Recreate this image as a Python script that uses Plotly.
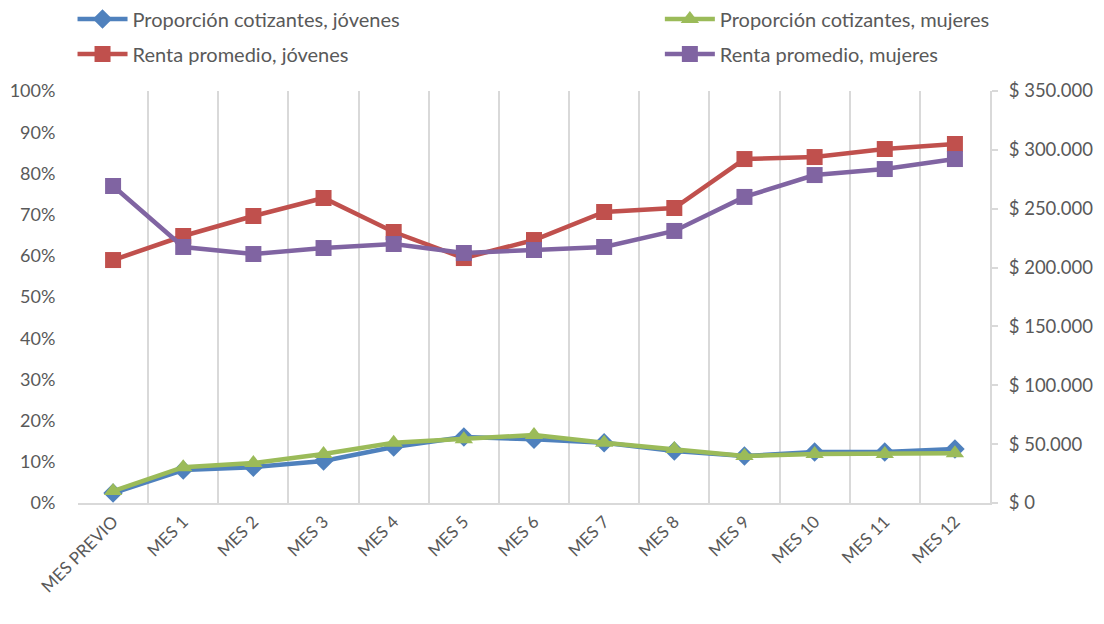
import plotly.graph_objects as go

categorias = ["MES PREVIO", "MES 1", "MES 2", "MES 3", "MES 4", "MES 5", "MES 6",
              "MES 7", "MES 8", "MES 9", "MES 10", "MES 11", "MES 12"]
prop_jovenes = [0.024, 0.080, 0.087, 0.102, 0.136, 0.160, 0.155, 0.146, 0.126, 0.114, 0.124, 0.124, 0.131]
prop_mujeres = [0.029, 0.087, 0.097, 0.119, 0.146, 0.155, 0.165, 0.146, 0.131, 0.114, 0.119, 0.119, 0.121]
renta_jovenes = [206400, 226800, 243800, 259100, 230200, 208100, 223400, 247200, 250600, 292200, 293900, 300700, 305000]
renta_mujeres = [269300, 217500, 211500, 216600, 220000, 212400, 214900, 217500, 231100, 260000, 278600, 283700, 292200]

y_ticks = [i / 10 for i in range(11)]
y_ticktext = [f"{i*10}%" for i in range(11)]
y2_ticks = [0, 50000, 100000, 150000, 200000, 250000, 300000, 350000]
y2_ticktext = ["$ 0", "$ 50.000", "$ 100.000", "$ 150.000", "$ 200.000", "$ 250.000", "$ 300.000", "$ 350.000"]

BLUE = "#4F81BD"
RED = "#C0504D"
GREEN = "#9BBB59"
PURPLE = "#8064A2"
TXT = "#595959"
GRID = "#D9D9D9"
FONT = "Lato, Open Sans, sans-serif"

fig = go.Figure()
fig.add_trace(go.Scatter(x=categorias, y=prop_jovenes, name="Proporción cotizantes, jóvenes",
                         mode="lines+markers", line=dict(color=BLUE, width=4.5),
                         marker=dict(symbol="diamond", size=15, color=BLUE), yaxis="y",
                         legend="legend", legendgroup="a"))
fig.add_trace(go.Scatter(x=categorias, y=prop_mujeres, name="Proporción cotizantes, mujeres",
                         mode="lines+markers", line=dict(color=GREEN, width=4.5),
                         marker=dict(symbol="triangle-up", size=16, color=GREEN), yaxis="y",
                         legend="legend2", legendgroup="c"))
fig.add_trace(go.Scatter(x=categorias, y=renta_jovenes, name="Renta promedio, jóvenes",
                         mode="lines+markers", line=dict(color=RED, width=4.5),
                         marker=dict(symbol="square", size=16, color=RED), yaxis="y2",
                         legend="legend", legendgroup="b"))
fig.add_trace(go.Scatter(x=categorias, y=renta_mujeres, name="Renta promedio, mujeres",
                         mode="lines+markers", line=dict(color=PURPLE, width=4.5),
                         marker=dict(symbol="square", size=16, color=PURPLE), yaxis="y2",
                         legend="legend2", legendgroup="d"))

leg_common = dict(orientation="v", yref="paper", y=1.222, yanchor="top",
                  font=dict(size=20, color=TXT), tracegroupgap=6, itemwidth=50,
                  bgcolor="rgba(0,0,0,0)", borderwidth=0)

# page body has an 8px margin, so the figure is sized 8px smaller and offset accordingly
fig.update_layout(
    width=1096, height=616,
    margin=dict(l=70, r=114, t=83, b=121, autoexpand=False),
    paper_bgcolor="white", plot_bgcolor="white",
    font=dict(family=FONT, color=TXT, size=17),
    showlegend=True,
    legend=dict(x=-0.006, xanchor="left", **leg_common),
    legend2=dict(x=0.638, xanchor="left", **leg_common),
    xaxis=dict(type="category", range=[-0.5, 12.5], tickson="boundaries",
               showgrid=True, gridcolor=GRID, gridwidth=2,
               showline=True, linecolor=GRID, linewidth=2,
               ticks="", tickangle=-45, tickfont=dict(size=17, color=TXT), zeroline=False),
    yaxis=dict(range=[0, 1], tickvals=y_ticks, ticktext=y_ticktext, showgrid=False,
               zeroline=False, showline=False, ticks="outside", ticklen=14,
               tickcolor="rgba(0,0,0,0)", ticklabelstandoff=4,
               tickfont=dict(size=18, color=TXT)),
    yaxis2=dict(range=[0, 350000], tickvals=y2_ticks, ticktext=y2_ticktext, overlaying="y",
                side="right", showgrid=False, zeroline=False, showline=True, linecolor=GRID,
                linewidth=2, ticks="outside", ticklen=6, tickcolor=GRID, tickwidth=2,
                ticklabelstandoff=7, tickfont=dict(size=18.5, color=TXT)),
)

fig.write_html("out.html")
